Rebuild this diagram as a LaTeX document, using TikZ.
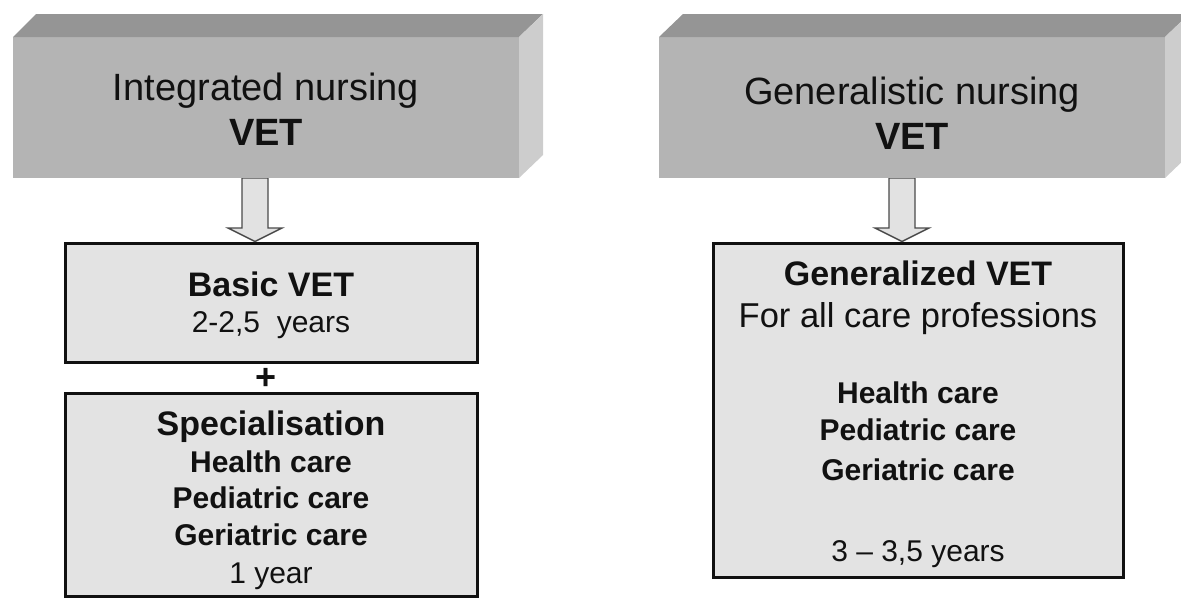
\documentclass[tikz,border=0pt]{standalone}
\usepackage{fontspec}
\setmainfont{Liberation Sans}
\usetikzlibrary{calc}
\definecolor{frontgray}{HTML}{B4B4B4}
\definecolor{topgray}{HTML}{959595}
\definecolor{sidegray}{HTML}{CDCDCD}
\definecolor{boxfill}{HTML}{E3E3E3}
\definecolor{arrowfill}{HTML}{E2E2E2}
\definecolor{arrowline}{HTML}{4A4A4A}
\definecolor{inkcol}{HTML}{111111}
\tikzset{
  x=1pt, y=-1pt,
  front/.style={fill=frontgray, draw=none, inner sep=0pt, outer sep=0pt, minimum width=506pt, minimum height=141pt},
  topface/.style={fill=topgray, draw=none},
  sideface/.style={fill=sidegray, draw=none},
  lowbox/.style={draw=inkcol, fill=boxfill, line width=3pt, inner sep=0pt, minimum width=412pt},
  barrow/.style={draw=arrowline, fill=arrowfill, line width=1.4pt, line join=miter},
  ttl/.style={anchor=base, text=inkcol, font=\fontsize{38}{44}\selectfont, inner sep=0pt},
  ttlb/.style={ttl, font=\fontsize{38}{44}\selectfont\bfseries},
  hd/.style={anchor=base, text=inkcol, font=\fontsize{34}{40}\selectfont\bfseries, inner sep=0pt},
  hdr/.style={anchor=base, text=inkcol, font=\fontsize{34.5}{40}\selectfont, inner sep=0pt},
  it/.style={anchor=base, text=inkcol, font=\fontsize{30}{36}\selectfont\bfseries, inner sep=0pt},
  itr/.style={anchor=base, text=inkcol, font=\fontsize{30}{36}\selectfont, inner sep=0pt},
}
\begin{document}
\begin{tikzpicture}
\useasboundingbox (0,0) rectangle (1181,598);
\clip (0,0) rectangle (1181,598);

% lower boxes
\node[lowbox, minimum height=119pt] (b1) at (271,302.5) {};
\node[lowbox, minimum height=203pt] (b2) at (271,494.5) {};
\node[lowbox, minimum width=410pt, minimum height=334pt] (r1) at (918,410) {};

% arrow anchors
\coordinate (la) at (255,178);
\coordinate (ra) at (902,178);

% block arrows
\draw[barrow] ($(la)+(-13,0)$) -- ($(la)+(-13,50)$) -- ($(la)+(-27,50)$) -- (la |- b1.north)
  -- ($(la)+(27,50)$) -- ($(la)+(13,50)$) -- ($(la)+(13,0)$) -- cycle;
\draw[barrow] ($(ra)+(-13,0)$) -- ($(ra)+(-13,50)$) -- ($(ra)+(-27,50)$) -- (ra |- r1.north)
  -- ($(ra)+(27,50)$) -- ($(ra)+(13,50)$) -- ($(ra)+(13,0)$) -- cycle;

% left 3D box
\node[front] (tl) at (266,107.5) {};
\fill[topface] (tl.north west) -- ++(23,-23) -- ($(tl.north east)+(24,-23)$) -- (tl.north east) -- cycle;
\fill[sideface] (tl.north east) -- ++(24,-23) -- ($(tl.south east)+(24,-23)$) -- (tl.south east) -- cycle;

% right 3D box
\node[front] (tr) at (912,107.5) {};
\fill[topface] (tr.north west) -- ++(24,-23) -- ($(tr.north east)+(24,-23)$) -- (tr.north east) -- cycle;
\fill[sideface] (tr.north east) -- ++(24,-23) -- ($(tr.south east)+(24,-23)$) -- (tr.south east) -- cycle;

% titles
\node[ttl] (tl1) at (266,100) {Integrated nursing};
\node[ttlb] (tl2) at (266,145) {VET};
\node[ttl] (tr1) at (912,104) {Generalistic nursing};
\node[ttlb] (tr2) at (912,149) {VET};

% left lower texts
\node[hd] (b1a) at (271,296) {Basic VET};
\node[itr] (b1b) at (271,332) {2-2,5\ \ years};
\node[anchor=base, text=inkcol, font=\fontsize{36}{40}\selectfont\bfseries, inner sep=0pt] (plus) at (266,389) {+};
\node[hd] (b2a) at (271,435) {Specialisation};
\node[it] (b2b) at (271,472) {Health care};
\node[it] (b2c) at (271,508) {Pediatric care};
\node[it] (b2d) at (271,545) {Geriatric care};
\node[itr] (b2e) at (271,583) {1 year};

% right lower texts
\node[hd] (r1a) at (918,285) {Generalized VET};
\node[hdr] (r1b) at (918,327) {For all care professions};
\node[it] (r1c) at (918,403) {Health care};
\node[it] (r1d) at (918,440) {Pediatric care};
\node[it] (r1e) at (918,480) {Geriatric care};
\node[itr] (r1f) at (918,561) {3 – 3,5 years};
\end{tikzpicture}
\end{document}
